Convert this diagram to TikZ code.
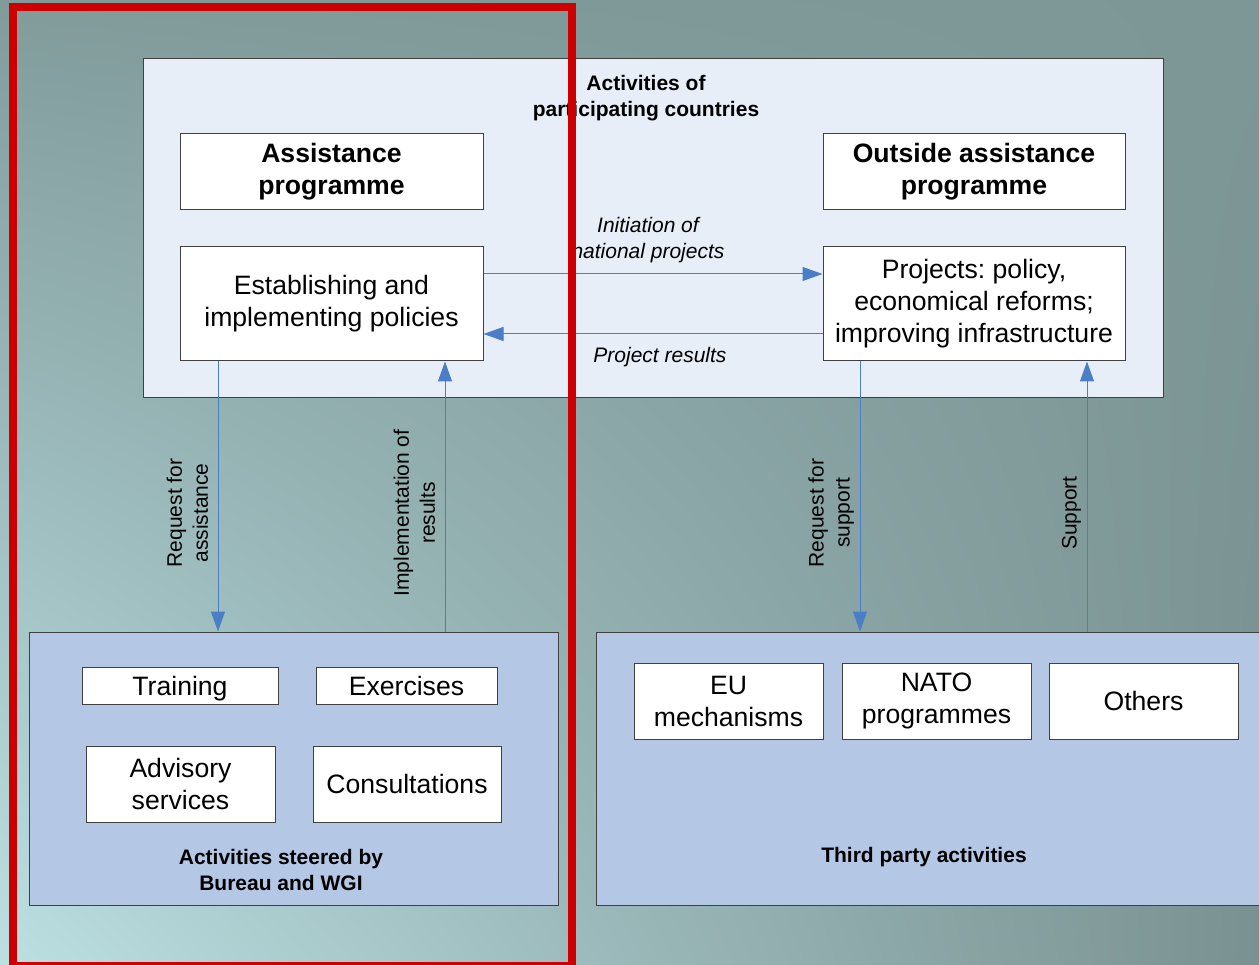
\documentclass[tikz,border=0pt]{standalone}
\usepackage{fontspec}
\setmainfont{Liberation Sans}
\usetikzlibrary{arrows.meta,shadings}
\frenchspacing

\definecolor{bgtl}{RGB}{129,155,155}
\definecolor{bgtr}{RGB}{125,150,150}
\definecolor{bgbl}{RGB}{188,224,226}
\definecolor{bgbr}{RGB}{122,145,145}
\definecolor{panelfill}{RGB}{232,238,248}
\definecolor{groupfill}{RGB}{180,199,228}
\definecolor{boxline}{RGB}{64,64,64}
\definecolor{flowblue}{RGB}{74,126,198}
\definecolor{frame}{RGB}{204,0,0}

\begin{document}
\begin{tikzpicture}[x=1pt,y=-1pt,
    box/.style={draw=boxline,fill=white,line width=1pt,align=center,inner sep=0pt,
      font=\fontsize{26.6}{32}\selectfont},
    headbox/.style={box,font=\bfseries\fontsize{26.6}{32}\selectfont},
    group/.style={draw=boxline,line width=1pt,inner sep=0pt},
    caption/.style={align=center,font=\bfseries\fontsize{21}{26}\selectfont},
    flowlabel/.style={align=center,font=\fontsize{21}{26}\selectfont},
    sidelabel/.style={flowlabel,rotate=90,anchor=south},
    flow/.style={draw=flowblue,line width=1pt,-{Triangle[length=20pt,width=14pt]}}]
    \useasboundingbox (0,0) rectangle (1259,965);
    \shade[upper left=bgtl,upper right=bgtr,lower left=bgbl,lower right=bgbr] (0,0) rectangle (1259,965);

    % participating countries
    \node[group,fill=panelfill,minimum width=1020pt,minimum height=339pt] (countries) at (653,228.5) {};
    \node[caption] (countriestitle) at (646,98) {Activities of\\participating countries};
    \node[headbox,minimum width=303pt,minimum height=76pt] (assist) at (331.5,172) {Assistance\\programme};
    \node[headbox,minimum width=302pt,minimum height=76pt] (outside) at (974,172) {Outside assistance\\programme};
    \node[box,minimum width=303pt,minimum height=114pt] (policy) at (331.5,304) {Establishing and\\implementing policies};
    \node[box,minimum width=302pt,minimum height=114pt] (projects) at (974,304) {Projects: policy,\\economical reforms;\\improving infrastructure};

    % steered by Bureau and WGI
    \node[group,fill=groupfill,minimum width=529pt,minimum height=273pt] (steered) at (293.5,768.5) {};
    \node[box,minimum width=196pt,minimum height=37pt,text depth=0pt] (training) at (180,685.5) {Training};
    \node[box,minimum width=181pt,minimum height=37pt] (exercises) at (406.5,685.5) {Exercises};
    \node[box,minimum width=189pt,minimum height=76pt] (advisory) at (180.5,784) {Advisory\\services};
    \node[box,minimum width=188pt,minimum height=76pt] (consult) at (407,784) {Consultations};
    \node[caption] (steeredtitle) at (281,869.5) {Activities steered by\\Bureau and WGI};

    % third party
    \node[group,fill=groupfill,minimum width=690pt,minimum height=273pt] (third) at (941,768.5) {};
    \node[box,minimum width=189pt,minimum height=76pt] (eu) at (728.5,701) {EU\\mechanisms};
    \node[box,minimum width=189pt,minimum height=76pt] (nato) at (936.5,701) {NATO\\programmes};
    \node[box,minimum width=189pt,minimum height=76pt] (others) at (1143.5,701) {Others};
    \node[caption] (thirdtitle) at (924,857) {Third party activities};

    % flows
    \draw[flow] ([yshift=30pt]policy.east) -- ([yshift=30pt]projects.west)
      node[flowlabel,midway,above=7pt,xshift=-5pt] {\itshape Initiation of\\\itshape national projects};
    \draw[flow] ([yshift=-30pt]projects.west) -- ([yshift=-30pt]policy.east)
      node[flowlabel,midway,below=9pt,xshift=7pt] {\itshape Project results};
    \draw[flow] ([xshift=-113.5pt]policy.south) -- ([xshift=-113.5pt]policy.south |- steered.north)
      node[sidelabel,pos=0.561,inner ysep=9.5pt] {Request for\\assistance};
    \draw[flow] ([xshift=113.5pt]policy.south |- steered.north) -- ([xshift=113.5pt]policy.south)
      node[sidelabel,pos=0.439,inner ysep=9.5pt] {Implementation of\\results};
    \draw[flow] ([xshift=-114pt]projects.south) -- ([xshift=-114pt]projects.south |- third.north)
      node[sidelabel,pos=0.561,inner ysep=5.5pt] {Request for\\support};
    \draw[flow] ([xshift=113pt]projects.south |- third.north) -- ([xshift=113pt]projects.south)
      node[sidelabel,pos=0.439,inner ysep=5.5pt] {Support};

    % highlight frame
    \draw[frame,line width=8pt] (13,7) rectangle (572,966);
\end{tikzpicture}
\end{document}
